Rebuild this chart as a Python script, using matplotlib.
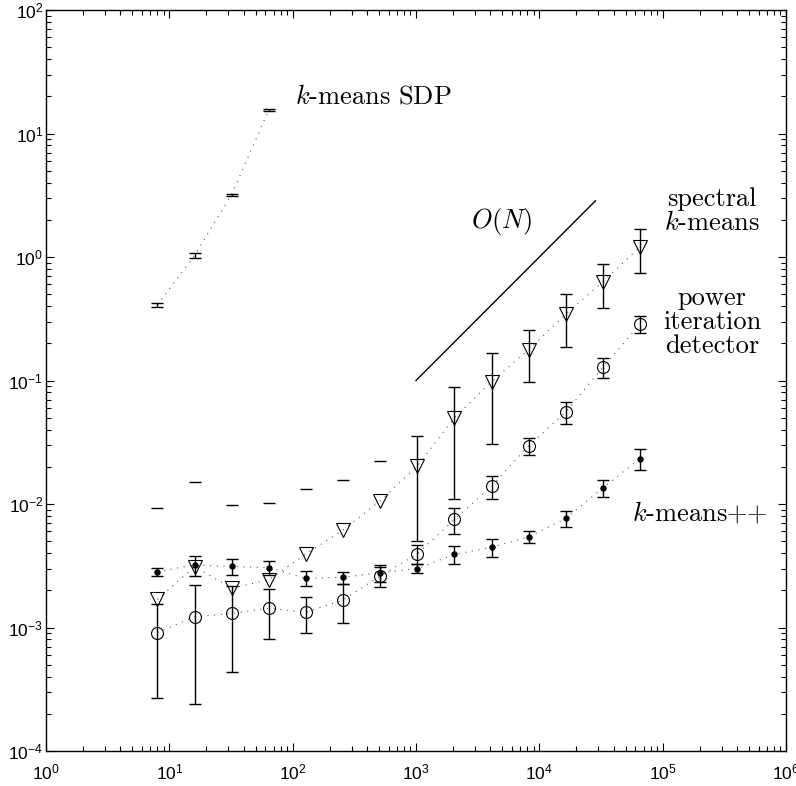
import numpy as np
import matplotlib
matplotlib.use('Agg')
import matplotlib.pyplot as plt
from matplotlib.ticker import NullFormatter, LogLocator

plt.rcParams['mathtext.fontset'] = 'cm'
plt.rcParams['font.family'] = ['Liberation Sans', 'DejaVu Sans']

# ---------------- data ----------------
N = [8, 16, 32, 64, 128, 256, 512, 1024, 2048, 4096, 8192, 16384, 32768, 65536]

sdp_N = [8, 16, 32, 64]
sdp_mean = [0.41, 1.03, 3.2, 15.5]
sdp_std = [0.015, 0.04, 0.06, 0.25]

spectral_mean = [1.69e-3, 3.11e-3, 2.08e-3, 2.43e-3, 3.94e-3, 6.15e-3, 1.06e-2,
                 2.03e-2, 5.0e-2, 9.8e-2, 0.178, 0.345, 0.63, 1.21]
spectral_std = [7.6e-3, 1.2e-2, 7.7e-3, 7.7e-3, 9.3e-3, 9.6e-3, 1.18e-2,
                1.53e-2, 3.9e-2, 6.75e-2, 0.08, 0.157, 0.24, 0.47]

power_mean = [9.1e-4, 1.22e-3, 1.30e-3, 1.43e-3, 1.33e-3, 1.67e-3, 2.61e-3,
              3.94e-3, 7.5e-3, 1.39e-2, 2.96e-2, 5.55e-2, 0.128, 0.286]
power_std = [6.4e-4, 9.8e-4, 8.6e-4, 6.2e-4, 4.3e-4, 5.9e-4, 5.0e-4,
             6.9e-4, 1.76e-3, 3.0e-3, 4.7e-3, 1.1e-2, 2.4e-2, 4.5e-2]

kpp_mean = [2.83e-3, 3.21e-3, 3.12e-3, 3.05e-3, 2.50e-3, 2.55e-3, 2.78e-3,
            3.0e-3, 3.91e-3, 4.46e-3, 5.41e-3, 7.64e-3, 1.35e-2, 2.33e-2]
kpp_std = [2.2e-4, 5.9e-4, 4.5e-4, 4.0e-4, 3.5e-4, 2.8e-4, 4.3e-4,
           2.6e-4, 6.6e-4, 7.2e-4, 6.0e-4, 1.13e-3, 2.1e-3, 4.6e-3]

ON_x = [1e3, 2.85e4]
ON_y = [1e-1, 2.85]

# ---------------- figure ----------------
fig = plt.figure(figsize=(7.96, 7.86), dpi=100)
ax = fig.add_axes([46 / 796, 35 / 786, 740 / 796, 741 / 786])
ax.set_xscale('log')
ax.set_yscale('log')
ax.set_xlim(1, 1e6)
ax.set_ylim(1e-4, 1e2)

CAP = 4.3


def draw_series(xs, m, s, marker, ms, mfc):
    xs = np.asarray(xs, float)
    m = np.asarray(m, float)
    s = np.asarray(s, float)
    ax.plot(xs, m, color='0.35', lw=0.8, dashes=(1, 5), zorder=1)
    lo = m - s
    ok = lo > 0
    if ok.any():
        ax.errorbar(xs[ok], m[ok], yerr=s[ok], fmt='none', ecolor='k',
                    elinewidth=1.0, capsize=CAP, capthick=1.0, zorder=2)
    if (~ok).any():
        ax.plot(xs[~ok], (m + s)[~ok], ls='none', marker='_', ms=2 * CAP,
                mew=1.0, color='k', zorder=2)
    if marker is not None:
        ax.plot(xs, m, ls='none', marker=marker, ms=ms, mfc=mfc, mec='k',
                mew=0.8, zorder=3)


draw_series(sdp_N, sdp_mean, sdp_std, None, 0, 'none')
draw_series(N, spectral_mean, spectral_std, 'v', 10.5, 'none')
draw_series(N, power_mean, power_std, 'o', 8.6, 'none')
draw_series(N, kpp_mean, kpp_std, 'o', 3.8, 'k')

ax.plot(ON_x, ON_y, color='k', lw=1.0)

# ---------------- ticks ----------------
ax.xaxis.set_major_locator(LogLocator(base=10, numticks=20))
ax.yaxis.set_major_locator(LogLocator(base=10, numticks=20))
ax.xaxis.set_minor_locator(LogLocator(base=10, subs=np.arange(2, 10), numticks=100))
ax.yaxis.set_minor_locator(LogLocator(base=10, subs=np.arange(2, 10), numticks=100))
ax.xaxis.set_minor_formatter(NullFormatter())
ax.yaxis.set_minor_formatter(NullFormatter())
ax.tick_params(which='both', direction='in', top=True, right=True, width=0.8,
               labelsize=12.5)
ax.tick_params(which='major', length=6)
ax.tick_params(which='minor', length=3.5)
ax.tick_params(axis='x', pad=8)
ax.tick_params(axis='y', pad=2)
for sp in ax.spines.values():
    sp.set_linewidth(1.0)

# ---------------- annotations ----------------
tkw = dict(transform=ax.transAxes, fontfamily='cmr10', fontsize=19)
ax.text(0.3365, 0.8826, r'$k$-means SDP', ha='left', va='center', **tkw)
ax.text(0.616, 0.714, r'$O(N)$', ha='center', va='center', **tkw)
ax.text(0.900, 0.745, 'spectral', ha='center', va='center', **tkw)
ax.text(0.900, 0.713, r'$k$-means', ha='center', va='center', **tkw)
ax.text(0.900, 0.611, 'power', ha='center', va='center', **tkw)
ax.text(0.900, 0.579, 'iteration', ha='center', va='center', **tkw)
ax.text(0.900, 0.5466, 'detector', ha='center', va='center', **tkw)
ax.text(0.884, 0.321, r'$k$-means++', ha='center', va='center', **tkw)

fig.savefig('out.png', dpi=100)
